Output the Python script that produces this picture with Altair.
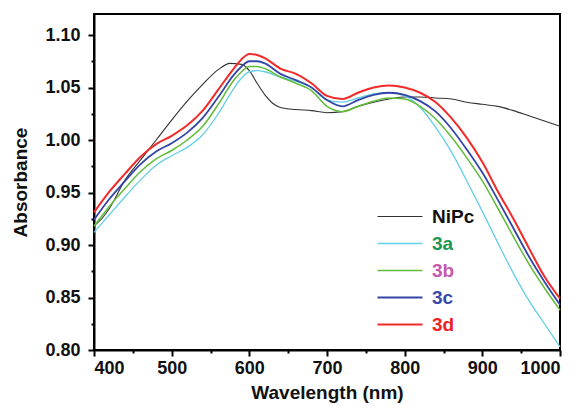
import altair as alt
import pandas as pd

# ---- data ----
wl = [400, 420, 440, 460, 480, 500, 520, 540, 560, 580, 590, 600, 610, 620, 640, 660, 680,
      700, 720, 740, 760, 780, 800, 820, 840, 860, 880, 900, 920, 940, 960, 980, 1000]

abs_3a = [0.912, 0.929, 0.946, 0.962, 0.976, 0.985, 0.993, 1.005, 1.025, 1.049, 1.059, 1.065, 1.066,
          1.065, 1.060, 1.056, 1.050, 1.038, 1.036, 1.040, 1.044, 1.045, 1.042, 1.031, 1.012, 0.989,
          0.961, 0.932, 0.902, 0.873, 0.847, 0.825, 0.803]
abs_3b = [0.918, 0.937, 0.954, 0.970, 0.982, 0.990, 1.000, 1.013, 1.034, 1.057, 1.065, 1.070, 1.070,
          1.068, 1.060, 1.054, 1.047, 1.032, 1.027, 1.032, 1.037, 1.040, 1.039, 1.032, 1.020, 1.003,
          0.983, 0.961, 0.935, 0.908, 0.882, 0.859, 0.838]
abs_3c = [0.924, 0.944, 0.961, 0.977, 0.989, 0.997, 1.007, 1.021, 1.041, 1.062, 1.070, 1.075, 1.075,
          1.073, 1.063, 1.057, 1.050, 1.038, 1.032, 1.038, 1.043, 1.045, 1.043, 1.037, 1.027, 1.011,
          0.991, 0.969, 0.943, 0.916, 0.889, 0.865, 0.843]
abs_3d = [0.931, 0.951, 0.968, 0.984, 0.996, 1.004, 1.014, 1.028, 1.048, 1.068, 1.077, 1.082, 1.081,
          1.078, 1.068, 1.063, 1.054, 1.042, 1.039, 1.045, 1.050, 1.052, 1.050, 1.045, 1.036, 1.021,
          1.002, 0.979, 0.951, 0.925, 0.897, 0.870, 0.849]

wl_nipc = [400, 410, 420, 440, 460, 480, 500, 520, 540, 560, 575, 590, 600, 610, 620, 630, 640, 660,
           680, 700, 720, 740, 760, 780, 800, 820, 840, 860, 880, 900, 920, 940, 960, 980, 1000]
abs_nipc = [0.918, 0.925, 0.935, 0.962, 0.981, 1.000, 1.019, 1.037, 1.053, 1.067, 1.073, 1.072, 1.066,
            1.054, 1.043, 1.035, 1.031, 1.029, 1.028, 1.026, 1.027, 1.032, 1.036, 1.039, 1.041, 1.041,
            1.040, 1.039, 1.036, 1.034, 1.032, 1.028, 1.023, 1.018, 1.013]

series_names = ["NiPc", "3a", "3b", "3c", "3d"]
line_colors = ["#333333", "#66cfe6", "#62bd3c", "#3445a8", "#f22a2a"]
label_colors = ["#111111", "#1a9650", "#c459ad", "#3a4aa8", "#ee2222"]
line_widths = [1.1, 2, 2, 2, 2]

x_ticks = list(range(400, 1001, 50))
y_ticks = [round(0.80 + 0.025 * i, 3) for i in range(13)]

# ---- build long table ----
rows = []
for name, xs, ys in [("NiPc", wl_nipc, abs_nipc), ("3a", wl, abs_3a), ("3b", wl, abs_3b),
                     ("3c", wl, abs_3c), ("3d", wl, abs_3d)]:
    for i, (x, y) in enumerate(zip(xs, ys)):
        rows.append({"series": name, "wl": x, "absorb": y, "idx": i})
df = pd.DataFrame(rows)

label_expr = " : ".join(
    f"datum.label == '{n}' ? '{c}'" for n, c in zip(series_names, label_colors)
) + " : '#111111'"

FONT = "Liberation Sans"

chart = alt.Chart(df).mark_line(interpolate="monotone").encode(
    x=alt.X("wl:Q", scale=alt.Scale(domain=[400, 1000], nice=False, zero=False),
            axis=alt.Axis(title="Wavelength (nm)", values=x_ticks, format="d",
                          labelExpr="datum.value % 100 == 0 ? datum.label : ''",
                          tickSize={"condition": {"test": "datum.value % 100 == 0", "value": 6}, "value": 3},
                          grid=False, titlePadding=6, labelPadding=3)),
    y=alt.Y("absorb:Q", scale=alt.Scale(domain=[0.80, 1.12], nice=False, zero=False),
            axis=alt.Axis(title="Absorbance", values=y_ticks,
                          labelExpr="round(datum.value*1000) % 50 == 0 ? format(datum.value, '.2f') : ''",
                          tickSize={"condition": {"test": "round(datum.value*1000) % 50 == 0", "value": 6}, "value": 3},
                          grid=False, titlePadding=14, labelPadding=8)),
    color=alt.Color("series:N", scale=alt.Scale(domain=series_names, range=line_colors),
                    legend=alt.Legend(title=None, orient="none", legendX=294, legendY=193,
                                      symbolType="M-4,0H5", symbolSize=100, symbolStrokeWidth=2,
                                      labelOffset=25, labelFont=FONT, labelFontSize=19,
                                      labelFontWeight="bold", labelColor={"expr": label_expr},
                                      rowPadding=7, padding=0)),
    strokeWidth=alt.StrokeWidth("series:N", scale=alt.Scale(domain=series_names, range=line_widths),
                                legend=None),
    order=alt.Order("idx:Q"),
).properties(
    width=466, height=336, padding={"left": 3, "top": 6, "right": 5, "bottom": 5}
).configure_view(
    stroke="black", strokeWidth=2
).configure_axis(
    domainColor="black", domainWidth=2, tickColor="black", tickWidth=2,
    labelFont=FONT, labelFontSize=18, labelFontWeight="bold", labelColor="#111111",
    titleFont=FONT, titleFontSize=19, titleFontWeight="bold", titleColor="#111111"
)

chart.save("out.html", embed_options={"renderer": "svg", "actions": False})
